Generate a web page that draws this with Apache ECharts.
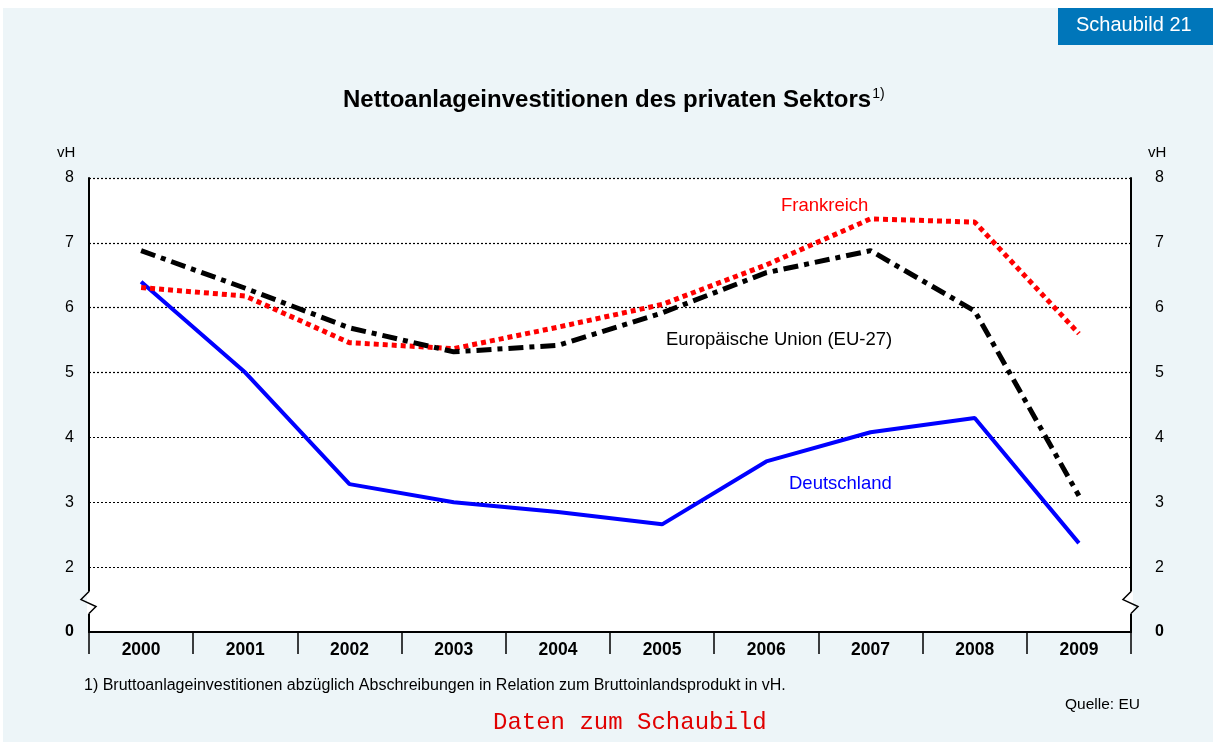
<!DOCTYPE html>
<html>
<head>
<meta charset="utf-8">
<script src="https://cdn.jsdelivr.net/npm/echarts@6/dist/echarts.min.js"></script>
<style>
  html, body { margin: 0; padding: 0; background: #fff; }
  #chart { width: 1213px; height: 742px; }
</style>
</head>
<body>
<div id="chart"></div>
<script>
// Jahre
var years = ["2000", "2001", "2002", "2003", "2004", "2005", "2006", "2007", "2008", "2009"];
// Werte in vH
var deutschland = [6.4, 5.0, 3.28, 3.0, 2.85, 2.66, 3.63, 4.08, 4.3, 2.37];
var frankreich = [6.31, 6.18, 5.46, 5.37, 5.7, 6.05, 6.66, 7.37, 7.32, 5.6];
var eu27 = [6.88, 6.3, 5.69, 5.32, 5.42, 5.92, 6.54, 6.88, 5.95, 3.1];
// Achse: unterer Wert 1 wird als "0" beschriftet (Achsenbruch)
var yTicks = [1, 2, 3, 4, 5, 6, 7, 8];

var font = "Liberation Sans, Arial, sans-serif";
var myChart = echarts.init(document.getElementById("chart"));

function yLabel(v) {
  if (v === yTicks[0]) return "{b|0}";
  return String(v);
}

var yAxisBase = {
  type: "value",
  min: yTicks[0],
  max: yTicks[yTicks.length - 1],
  interval: 1,
  axisLine: { show: true, lineStyle: { color: "#000", width: 2 } },
  axisTick: { show: false },
  axisLabel: {
    color: "#000",
    fontSize: 16,
    fontFamily: font,
    formatter: yLabel,
    rich: { b: { fontWeight: "bold", fontSize: 16, fontFamily: font, color: "#000" } }
  }
};

var option = {
  backgroundColor: "#fff",
  animation: false,
  graphic: [
    { type: "rect", z: -10, shape: { x: 3, y: 8, width: 1210, height: 734 }, style: { fill: "#EDF5F8" } },
    { type: "rect", z: 1, shape: { x: 1058, y: 8, width: 155, height: 37 }, style: { fill: "#0076BA" } },
    { type: "text", z: 2, left: 1076, top: 15, style: { text: "Schaubild 21", fill: "#fff", font: "20px " + font } },
    { type: "text", left: 57, top: 145, style: { text: "vH", fill: "#000", font: "15px " + font } },
    { type: "text", left: 1148, top: 145, style: { text: "vH", fill: "#000", font: "15px " + font } },
    { type: "text", left: 84, top: 678, style: { text: "1) Bruttoanlageinvestitionen abzüglich Abschreibungen in Relation zum Bruttoinlandsprodukt in vH.", fill: "#000", font: "16px " + font } },
    { type: "text", right: 73, top: 697, style: { text: "Quelle: EU", fill: "#000", font: "15.5px " + font } },
    { type: "text", left: 493, top: 711, style: { text: "Daten zum Schaubild", fill: "#e00000", font: "24px Liberation Mono, Courier New, monospace" } },
    { type: "text", left: 781, top: 196, z: 20, style: { text: "Frankreich", fill: "#ff0000", font: "18.5px " + font } },
    { type: "text", left: 666, top: 330, z: 20, style: { text: "Europäische Union (EU-27)", fill: "#000", font: "18.5px " + font } },
    { type: "text", left: 789, top: 474, z: 20, style: { text: "Deutschland", fill: "#0000ff", font: "18.5px " + font } }
  ],
  title: {
    text: "{t|Nettoanlageinvestitionen des privaten Sektors}{s|1)}",
    left: 338,
    top: 82,
    textStyle: {
      rich: {
        t: { fontSize: 24, fontWeight: "bold", fontFamily: font, color: "#000" },
        s: { fontSize: 14, fontWeight: "normal", fontFamily: font, color: "#000", verticalAlign: "top", padding: [0, 0, 12, 1] }
      }
    }
  },
  grid: { left: 89, right: 82, top: 178, bottom: 110, backgroundColor: "#fff", show: true, borderWidth: 0 },
  xAxis: {
    type: "category",
    data: years,
    boundaryGap: true,
    axisLine: { lineStyle: { color: "#000", width: 2 } },
    axisTick: { show: true, length: 22, lineStyle: { color: "#000", width: 1.5 } },
    axisLabel: { color: "#000", fontSize: 17.5, fontWeight: "bold", fontFamily: font, margin: 9 },
    splitLine: { show: false }
  },
  yAxis: [
    Object.assign({}, yAxisBase, {
      position: "left",
      axisLabel: Object.assign({}, yAxisBase.axisLabel, { margin: 15 }),
      splitLine: { show: true, lineStyle: { color: "#000", width: 1.2, type: [2, 2] } }
    }),
    Object.assign({}, yAxisBase, {
      position: "right",
      axisLabel: Object.assign({}, yAxisBase.axisLabel, { margin: 24 }),
      splitLine: { show: false }
    })
  ],
  series: [
    {
      name: "Deutschland", type: "line", data: deutschland, symbol: "none", z: 3,
      lineStyle: { color: "#0000ff", width: 4 }
    },
    {
      name: "Frankreich", type: "line", data: frankreich, symbol: "none", z: 4,
      lineStyle: { color: "#ff0000", width: 5, type: [5, 4], cap: "butt" }
    },
    {
      name: "Europäische Union (EU-27)", type: "line", data: eu27, symbol: "none", z: 5,
      lineStyle: { color: "#000", width: 5, type: [15, 6, 5, 6], cap: "butt" }
    }
  ]
};

myChart.setOption(option);

// Achsenbruch-Zeichen auf beiden Achsen
var yb = myChart.convertToPixel({ yAxisIndex: 0 }, 1.5);
function zig(x) {
  return [
    { type: "rect", z: 30, shape: { x: x - 2, y: yb - 8, width: 4, height: 22 }, style: { fill: "#fff" } },
    { type: "polyline", z: 31, shape: { points: [[x, yb - 8], [x - 8, yb], [x + 7, yb + 7], [x, yb + 14]] }, style: { stroke: "#000", lineWidth: 1.5, fill: null } }
  ];
}
var extra = option.graphic.concat(zig(89), zig(1131));
myChart.setOption({ graphic: extra });
</script>
</body>
</html>
